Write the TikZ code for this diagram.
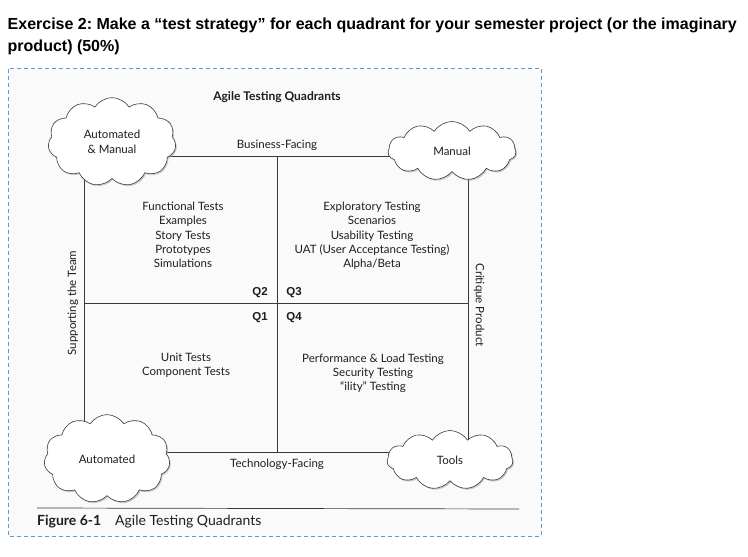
\documentclass[tikz,border=0pt]{standalone}
\usepackage{fontspec}
\setmainfont{Lato}
\newfontfamily\titlefont{Liberation Sans}
\usetikzlibrary{shapes.symbols,shadows}
\definecolor{dashblue}{HTML}{5B9BD5}
\definecolor{panelbg}{HTML}{FAFAFA}
\definecolor{ink}{HTML}{1E1E1E}
\definecolor{frameline}{HTML}{3A3A3A}
\frenchspacing
\tikzset{
  puff/.style={cloud, cloud puffs=11, cloud puff arc=115, draw=frameline, line width=0.6pt,
    fill=white, inner sep=0pt, align=center, text=ink,
    font=\fontsize{11.5}{14.5}\selectfont,
    drop shadow={shadow xshift=1.2pt, shadow yshift=-1.4pt, fill=black!35, opacity=0.55}},
  frame/.style={draw=frameline, line width=0.6pt},
  lbl/.style={text=ink, inner sep=0pt, font=\fontsize{11.5}{14.3}\selectfont, align=center},
  qlbl/.style={text=ink, inner sep=0pt, font=\titlefont\bfseries\fontsize{11.5}{12}\selectfont},
  ttl/.style={text=black, inner sep=0pt, anchor=base west, font=\titlefont\bfseries\fontsize{16}{19}\selectfont}
}
\begin{document}
\begin{tikzpicture}[x=1pt,y=-1pt]
\useasboundingbox (0,0) rectangle (748,557);
\fill[white] (0,0) rectangle (748,557);
% title
\node[ttl] (t1) at (7.5,29) {Exercise 2: Make a “test strategy” for each quadrant for your semester project (or the imaginary};
\node[ttl] (t2) at (7.5,51) {product) (50\%)};
% dashed panel
\draw[dashblue, line width=0.9pt, dash pattern=on 4pt off 3pt, fill=panelbg] (8.5,68.5) rectangle (541,536);
% frame corners
\coordinate (ctl) at (84,156);
\coordinate (ctr) at (468,156);
\coordinate (cbl) at (84,452);
\coordinate (cbr) at (468,452);
\coordinate (mt) at (277,156);
\coordinate (mb) at (277,452);
\coordinate (ml) at (84,303);
\coordinate (mr) at (468,303);
\draw[frame] (ctl) -- (ctr) -- (cbr) -- (cbl) -- cycle;
\draw[frame] (mt) -- (mb);
\draw[frame] (ml) -- (mr);
% clouds
\node[puff, minimum width=128pt, minimum height=52pt] (am) at (112,142) {Automated\\\& Manual};
\node[puff, minimum width=128pt, minimum height=54pt] (mn) at (452,151) {Manual};
\node[puff, minimum width=126pt, minimum height=58pt] (au) at (107,459) {Automated};
\node[puff, minimum width=126pt, minimum height=59pt] (tl) at (450,460) {Tools};
% headings
\node[lbl, font=\bfseries\fontsize{12}{14}\selectfont] (head) at (277,97) {Agile Testing Quadrants};
\node[lbl] (bf) at (277,145) {Business-Facing};
\node[lbl] (tf) at (277,464.5) {Technology-Facing};
\node[lbl, rotate=90] (st) at (73,303) {Supporting the Team};
\node[lbl, rotate=-90] (cp) at (479,305) {Critique Product};
% quadrant labels
\node[qlbl] (q2) at (260,293) {Q2};
\node[qlbl] (q3) at (294,293) {Q3};
\node[qlbl] (q1) at (260,317.5) {Q1};
\node[qlbl] (q4) at (294,317.5) {Q4};
% quadrant contents
\node[lbl] (b2) at (183,235) {Functional Tests\\Examples\\Story Tests\\Prototypes\\Simulations};
\node[lbl] (b3) at (372,236) {Exploratory Testing\\Scenarios\\Usability Testing\\UAT (User Acceptance Testing)\\Alpha/Beta};
\node[lbl] (b1) at (186,365) {Unit Tests\\Component Tests};
\node[lbl] (b4) at (373,373.5) {Performance \& Load Testing\\Security Testing\\“ility” Testing};
% caption
\coordinate (r1) at (37,508);
\coordinate (r2) at (519,509);
\draw[draw=frameline, line width=0.7pt] (r1) -- (r2);
\node[anchor=base west, inner sep=0pt, text=ink, font=\bfseries\fontsize{14}{16}\selectfont] (fig) at (37,525.5) {Figure 6-1};
\node[anchor=base west, inner sep=0pt, text=ink, font=\fontsize{14}{16}\selectfont] (cap) at (115,525.5) {Agile Testing Quadrants};
\end{tikzpicture}
\end{document}
